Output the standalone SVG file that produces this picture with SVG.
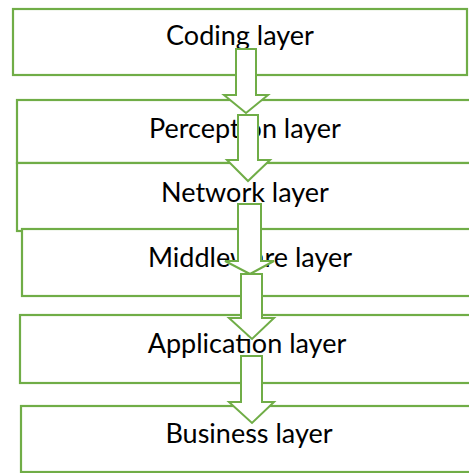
<svg xmlns="http://www.w3.org/2000/svg" width="469" height="473" viewBox="0 0 469 473">
  <style>
    .box { fill: #ffffff; stroke: #70AD47; stroke-width: 2.2; }
    .arrow { fill: #ffffff; stroke: #70AD47; stroke-width: 2; stroke-linejoin: miter; }
    .label { font-family: Lato, "Liberation Sans", sans-serif; font-size: 27px; fill: #000000; text-anchor: middle; }
  </style>
  <rect x="0" y="0" width="469" height="473" fill="#ffffff"/>

  <g id="coding-layer">
    <rect class="box" x="13" y="9" width="454" height="66"/>
    <text class="label" x="240" y="45">Coding layer</text>
  </g>
  <g id="perception-layer">
    <rect class="box" x="17" y="100" width="470" height="63"/>
    <text class="label" x="245" y="138">Perception layer</text>
  </g>
  <g id="network-layer">
    <rect class="box" x="17" y="163" width="470" height="68"/>
    <text class="label" x="245" y="202">Network layer</text>
  </g>
  <g id="middleware-layer">
    <rect class="box" x="22" y="229" width="470" height="67"/>
    <text class="label" x="250" y="267">Middleware layer</text>
  </g>
  <g id="application-layer">
    <rect class="box" x="20" y="315" width="470" height="68"/>
    <text class="label" x="247" y="353">Application layer</text>
  </g>
  <g id="business-layer">
    <rect class="box" x="21" y="406" width="470" height="66"/>
    <text class="label" x="249" y="443">Business layer</text>
  </g>

  <g id="connectors">
    <polygon class="arrow" points="236,49 256,49 256,95 268,95 246,113 224,95 236,95"/>
    <polygon class="arrow" points="238,115 258,115 258,160 270,160 248,181 227,160 238,160"/>
    <polygon class="arrow" points="238,204 261,204 261,261 274,261 250,274 225,261 238,261"/>
    <polygon class="arrow" points="241,274 262,274 262,318 274,318 252,339 229,318 241,318"/>
    <polygon class="arrow" points="241,356 262,356 262,402 274,402 252,423 229,402 241,402"/>
  </g>
</svg>
